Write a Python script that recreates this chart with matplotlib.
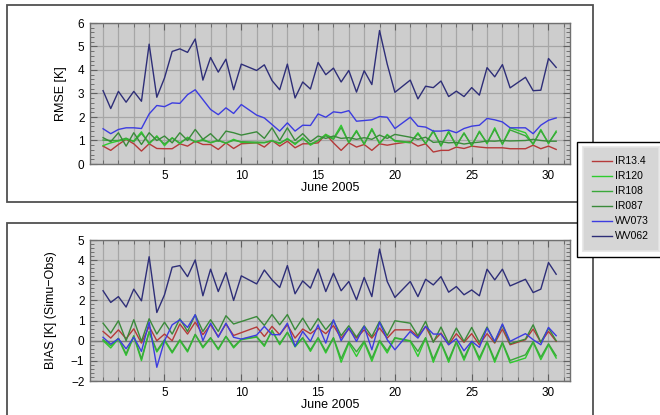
import numpy as np
import matplotlib
matplotlib.use("Agg")
import matplotlib.pyplot as plt
from matplotlib.patches import Rectangle
from matplotlib.ticker import MultipleLocator

plt.rcParams['font.family'] = ['Liberation Sans', 'DejaVu Sans']

# observation times: days of June 2005, twice daily
days = np.arange(1.0, 31.0, 0.5)
N = None

labels = ["IR13.4", "IR120", "IR108", "IR087", "WV073", "WV062"]
colors = ["#b53a3a", "#2ecc2e", "#3aa83a", "#3a8a3a", "#3c3ce0", "#2e2e78"]

# RMSE [K]
rmse_ir134 = [0.76, 0.58, 0.83, 1.05, 0.86, 0.55, 0.86, 0.66, 0.65, 0.65,
              0.86, 0.76, 0.97, 0.83, 0.83, 0.62, 0.90, 0.66, 0.86, N,
              0.90, 0.72, 1.00, 0.76, 0.97, 0.69, 0.86, 0.86, 0.90, 1.26,
              0.90, 0.58, 0.90, 0.72, 0.83, 0.58, 0.86, 0.80, 0.86, N,
              0.95, 0.76, 0.86, 0.51, 0.58, 0.58, 0.72, 0.66, 0.76, 0.72,
              0.69, 0.69, 0.69, 0.65, N, 0.65, 0.80, 0.65, 0.76, 0.62]
rmse_ir120 = [0.78, 0.90, 0.98, 1.05, 0.98, 1.37, 0.85, 1.20, 0.78, 1.12,
              0.86, 1.14, 0.93, 1.05, 0.90, 1.00, 0.88, 1.05, 0.92, N,
              0.90, 0.90, 1.00, 0.86, 1.09, 0.83, 1.12, 0.80, 1.00, 1.26,
              1.09, 1.65, 0.90, 1.43, 0.83, 1.51, 0.86, 1.26, 0.97, N,
              0.90, 1.33, 0.86, 1.43, 0.76, 1.40, 0.76, 1.33, 0.76, 1.40,
              0.86, 1.54, 0.83, 1.54, N, 1.33, 0.83, 1.47, 0.86, 1.40]
rmse_ir108 = [1.02, 1.00, 1.00, 1.10, 0.95, 1.30, 0.90, 1.15, 0.85, 1.10,
              0.90, 1.10, 0.95, 1.00, 0.92, 1.00, 0.90, 1.00, 0.95, N,
              0.93, 0.92, 0.98, 0.90, 1.05, 0.88, 1.08, 0.85, 1.00, 1.20,
              1.05, 1.55, 0.92, 1.38, 0.86, 1.45, 0.90, 1.22, 1.00, N,
              0.92, 1.28, 0.88, 1.38, 0.80, 1.35, 0.80, 1.30, 0.80, 1.36,
              0.90, 1.48, 0.86, 1.45, N, 1.20, 0.86, 1.42, 0.90, 1.35]
rmse_ir087 = [1.12, 0.95, 1.33, 0.76, 1.33, 0.83, 1.33, 1.00, 1.19, 0.90,
              1.33, 1.00, 1.47, 1.05, 1.29, 0.97, 1.40, 1.33, 1.23, N,
              1.37, 1.09, 1.54, 1.00, 1.54, 1.00, 1.29, 0.95, 1.19, 1.09,
              1.19, 1.09, 1.12, 1.05, 1.12, 1.05, 1.23, 1.09, 1.26, N,
              1.14, 1.05, 1.14, 0.92, 0.95, 0.90, 0.92, 0.85, 0.90, 0.93,
              0.98, 0.97, 1.00, 0.98, N, 1.00, 1.05, 1.00, 0.97, 0.97]
rmse_wv073 = [1.50, 1.29, 1.47, 1.54, 1.54, 1.51, 2.13, 2.49, 2.44, 2.60,
              2.58, 2.95, 3.16, 2.74, 2.32, 2.10, 2.39, 2.15, 2.53, N,
              2.08, 1.96, 1.68, 1.40, 1.75, 1.40, 1.65, 1.64, 2.13, 1.99,
              2.22, 2.18, 2.27, 1.82, 1.85, 1.88, 2.02, 1.99, 1.51, N,
              1.99, 1.61, 1.57, 1.40, 1.40, 1.44, 1.33, 1.51, 1.61, 1.65,
              1.94, 1.88, 1.79, 1.54, N, 1.54, 1.29, 1.65, 1.86, 1.96]
rmse_wv062 = [3.12, 2.36, 3.09, 2.63, 3.09, 2.67, 5.10, 2.84, 3.66, 4.79,
              4.90, 4.75, 5.32, 3.57, 4.53, 3.91, 4.46, 3.16, 4.25, N,
              3.98, 4.22, 3.55, 3.16, 4.25, 2.81, 3.49, 3.19, 4.32, 3.80,
              4.08, 3.49, 3.98, 3.06, 3.97, 3.38, 5.68, 4.25, 3.05, N,
              3.57, 2.77, 3.31, 3.25, 3.53, 2.87, 3.10, 2.87, 3.25, 2.93,
              4.10, 3.71, 4.23, 3.24, N, 3.69, 3.12, 3.14, 4.49, 4.11]

# BIAS [K] (Simu-Obs)
bias_ir134 = [0.46, 0.13, 0.54, 0.10, 0.59, -0.12, 0.71, 0.00, 0.33, 0.00,
              0.83, 0.33, 0.92, 0.30, 0.79, 0.21, 0.83, 0.26, N, N,
              0.68, 0.21, 0.71, 0.30, 0.79, 0.13, 0.58, 0.35, 0.63, 0.35,
              0.75, 0.13, 0.58, 0.13, 0.54, 0.13, 0.63, 0.13, 0.54, N,
              0.54, 0.21, 0.71, -0.03, 0.38, -0.20, 0.35, -0.08, 0.35, -0.20,
              0.35, -0.12, 0.58, -0.20, N, 0.05, 0.58, -0.08, 0.46, -0.03]
bias_ir120 = [0.00, -0.36, 0.10, -0.73, 0.21, -0.99, 0.43, -0.56, 0.00, -0.61,
              0.00, -0.56, 0.30, -0.36, 0.13, -0.45, 0.21, -0.36, 0.05, N,
              0.18, -0.28, 0.51, -0.20, 0.41, -0.31, 0.13, -0.53, 0.13, -0.61,
              0.13, -1.07, -0.12, -0.78, -0.08, -1.02, -0.03, -0.61, 0.13, N,
              -0.03, -0.78, 0.13, -1.07, -0.12, -1.07, -0.08, -0.97, -0.08, -0.97,
              -0.08, -1.07, -0.12, -1.10, N, -0.86, -0.08, -0.94, -0.20, -0.86]
bias_ir108 = [0.05, -0.25, 0.12, -0.65, 0.25, -0.90, 0.45, -0.50, 0.05, -0.55,
              0.05, -0.50, 0.32, -0.30, 0.15, -0.40, 0.22, -0.30, 0.08, N,
              0.20, -0.22, 0.50, -0.15, 0.42, -0.25, 0.15, -0.45, 0.15, -0.52,
              0.15, -0.90, -0.05, -0.55, -0.02, -0.88, 0.02, -0.50, 0.15, N,
              0.00, -0.53, 0.15, -0.92, -0.08, -0.95, -0.05, -0.85, -0.05, -0.85,
              -0.05, -0.95, -0.08, -0.98, N, -0.70, -0.05, -0.82, -0.15, -0.75]
bias_ir087 = [0.87, 0.38, 0.99, 0.00, 1.04, -0.03, 1.09, 0.33, 0.92, 0.33,
              1.09, 0.46, 1.29, 0.46, 1.04, 0.46, 1.24, 0.83, N, N,
              1.20, 0.76, 1.30, 0.79, 1.30, 0.54, 1.12, 0.50, 1.10, 0.55,
              1.00, 0.25, 0.74, 0.18, 0.74, 0.21, 0.96, 0.25, 0.99, N,
              0.87, 0.25, 0.96, -0.08, 0.68, -0.12, 0.63, -0.03, 0.66, -0.08,
              0.68, -0.08, 0.79, -0.15, N, 0.08, 0.79, -0.08, 0.63, 0.00]
bias_wv073 = [0.17, -0.17, 0.10, -0.40, 0.17, -0.53, 0.92, -1.32, 0.00, 0.79,
              1.04, 0.66, 1.29, 0.00, 0.87, 0.17, 0.87, 0.17, 0.08, N,
              0.28, 0.71, 0.30, 0.30, 0.87, -0.28, 0.46, -0.03, 0.79, -0.12,
              1.04, 0.00, 0.63, -0.03, 0.71, -0.45, 0.92, 0.05, -0.45, N,
              0.46, 0.13, 0.71, 0.33, 0.33, -0.20, 0.10, -0.50, -0.03, -0.33,
              0.63, -0.03, 0.83, -0.03, N, 0.35, 0.05, -0.20, 0.66, 0.25]
bias_wv062 = [2.48, 1.90, 2.19, 1.67, 2.56, 1.98, 4.17, 1.40, 2.28, 3.65,
              3.73, 3.18, 4.01, 2.23, 3.55, 2.44, 3.38, 2.00, 3.22, N,
              2.82, 3.51, 3.02, 2.64, 3.73, 2.33, 2.97, 2.61, 3.56, 2.44,
              3.35, 2.48, 2.94, 2.03, 3.14, 2.19, 4.55, 2.94, 2.15, N,
              2.94, 2.19, 3.05, 2.77, 3.18, 2.41, 2.69, 2.28, 2.52, 2.23,
              3.55, 3.02, 3.55, 2.72, N, 3.05, 2.39, 2.56, 3.88, 3.30]

rmse = [rmse_ir134, rmse_ir120, rmse_ir108, rmse_ir087, rmse_wv073, rmse_wv062]
bias = [bias_ir134, bias_ir120, bias_ir108, bias_ir087, bias_wv073, bias_wv062]

W, H = 660, 415
fig = plt.figure(figsize=(W / 100, H / 100), dpi=100)

def fbox(x0, y0, x1, y1):
    # pixel box (top-left origin) -> figure fraction
    return [x0 / W, 1 - y1 / H, (x1 - x0) / W, (y1 - y0) / H]

# panel frames
for (x0, y0, x1, y1) in [(7, 5, 593, 202), (7, 223, 593, 425)]:
    b = fbox(x0, y0, x1, y1)
    fig.add_artist(Rectangle((b[0], b[1]), b[2], b[3], transform=fig.transFigure,
                             facecolor="white", edgecolor="#505050", lw=1.3, zorder=0))

def style(ax, ylo, yhi, ylabel):
    ax.set_facecolor("#cdcdcd")
    ax.set_xlim(0.15, 31.4)
    ax.set_ylim(ylo, yhi)
    ax.xaxis.set_major_locator(MultipleLocator(5))
    ax.xaxis.set_minor_locator(MultipleLocator(1))
    ax.yaxis.set_major_locator(MultipleLocator(1))
    ax.yaxis.set_minor_locator(MultipleLocator(0.2))
    ax.grid(True, which="major", axis="y", color="#a6a6a6", lw=0.9)
    ax.grid(True, which="both", axis="x", color="#a6a6a6", lw=0.9)
    ax.tick_params(which="both", direction="in", top=True, right=True,
                   color="#606060", labelsize=8.5, pad=4)
    ax.tick_params(which="major", length=5)
    ax.tick_params(which="minor", length=3)
    for s in ax.spines.values():
        s.set_color("#707070")
        s.set_linewidth(1.0)
    ax.set_xlabel("June 2005", fontsize=9, labelpad=0)
    ax.set_ylabel(ylabel, fontsize=9)
    ax.set_axisbelow(True)

ax1 = fig.add_axes(fbox(90, 23, 570, 164))
ax2 = fig.add_axes(fbox(90, 240, 570, 381))

for ax, series in [(ax1, rmse), (ax2, bias)]:
    for vals, c, lab in zip(series, colors, labels):
        v = np.array([np.nan if x is None else x for x in vals], dtype=float)
        m = ~np.isnan(v)
        ax.plot(days[m], v[m], color=c, lw=1.0, label=lab)

ax2.axhline(0, color="#7a7a7a", lw=1.0, zorder=1)

style(ax1, 0, 6, "RMSE [K]")
style(ax2, -2, 5, "BIAS [K] (Simu\u2212Obs)")
ax1.yaxis.set_label_coords(-0.047, 0.5)
ax2.yaxis.set_label_coords(-0.068, 0.5)

# legend box sitting over the right edge
ob = fbox(577, 142, 680, 257)
fig.add_artist(Rectangle((ob[0], ob[1]), ob[2], ob[3], transform=fig.transFigure,
                         facecolor="white", edgecolor="black", lw=1.0, zorder=5))
h, l = ax1.get_legend_handles_labels()
leg = fig.legend(h, l, loc="upper left", bbox_to_anchor=(583 / W, 1 - 147 / H),
                 borderaxespad=0, fontsize=7.5, frameon=True, fancybox=False,
                 borderpad=0.9, labelspacing=0.48, handlelength=1.9,
                 handletextpad=0.3)
leg.get_frame().set_facecolor("#cccccc")
leg.get_frame().set_edgecolor("#e4e4e4")
leg.get_frame().set_linewidth(1.5)
leg.set_zorder(6)

fig.savefig("out.png", dpi=100)
